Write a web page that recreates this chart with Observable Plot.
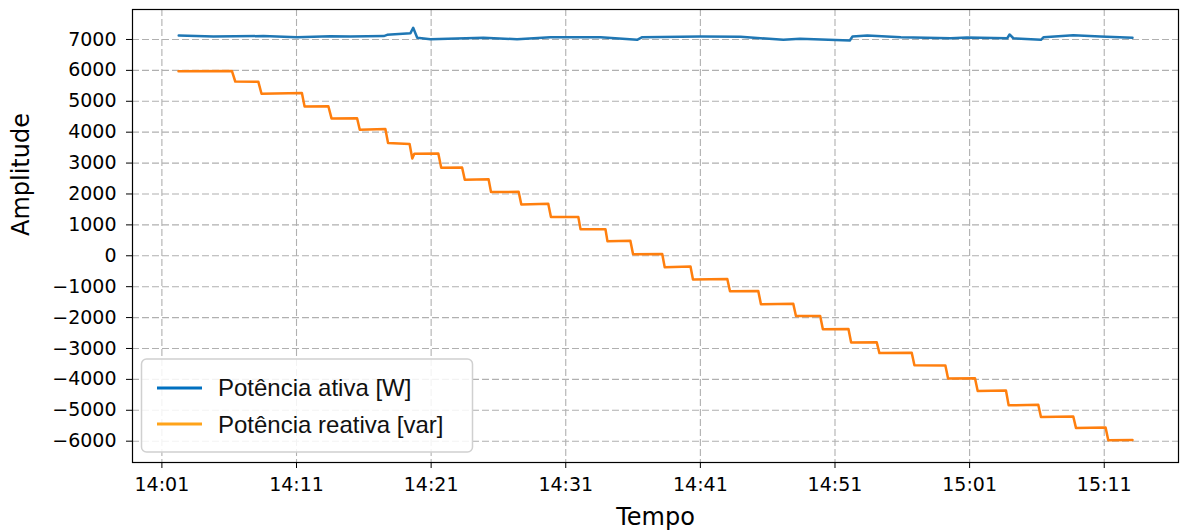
<!DOCTYPE html>
<html><head><meta charset="utf-8">
<script src="https://cdn.jsdelivr.net/npm/d3@7"></script>
<script src="https://cdn.jsdelivr.net/npm/@observablehq/plot@0.6"></script>
<style>
html,body{margin:0;padding:0;background:#fff;}
#wrap{position:relative;width:1181px;height:531px;overflow:hidden;}
#legend{position:absolute;left:0;top:0;pointer-events:none;}
</style></head><body>
<div id="wrap"></div>
<script>
// Potência ativa [W]
const activeTime = ["14:02:15","14:04:50","14:08:32","14:11:02","14:13:31","14:15:00","14:17:29","14:17:44","14:19:28","14:19:40","14:19:58","14:20:57","14:24:53","14:27:23","14:29:52","14:33:35","14:36:18","14:36:41","14:41:00","14:43:59","14:47:10","14:48:24","14:52:06","14:52:18","14:53:24","14:55:54","14:59:36","15:00:48","15:03:48","15:03:58","15:04:15","15:06:18","15:06:30","15:08:42","15:10:42","15:13:06"];
const activeValue = [7130,7100,7110,7075,7105,7097,7110,7150,7205,7378,7054,7010,7054,7010,7075,7075,6990,7075,7097,7090,6990,7022,6968,7097,7130,7075,7040,7060,7040,7162,7040,6990,7075,7140,7100,7054];

// Potência reativa [var]
const reactiveTime = ["14:02:14","14:06:12","14:06:27","14:08:10","14:08:24","14:11:24","14:11:36","14:13:22","14:13:36","14:15:30","14:15:42","14:17:36","14:17:48","14:19:24","14:19:36","14:19:45","14:21:32","14:21:45","14:23:18","14:23:30","14:25:16","14:25:27","14:27:30","14:27:42","14:29:42","14:29:54","14:31:56","14:32:06","14:33:57","14:34:06","14:35:48","14:36:00","14:38:10","14:38:21","14:40:16","14:40:27","14:43:00","14:43:12","14:45:18","14:45:30","14:47:54","14:48:06","14:49:54","14:50:06","14:52:00","14:52:12","14:54:06","14:54:18","14:56:42","14:56:54","14:59:12","14:59:24","15:01:24","15:01:36","15:03:42","15:03:54","15:06:06","15:06:18","15:08:42","15:08:54","15:11:06","15:11:18","15:13:06"];
const reactiveValue = [5975,5980,5640,5630,5245,5270,4833,4840,4445,4450,4080,4100,3647,3620,3150,3300,3310,2850,2855,2460,2480,2060,2070,1660,1680,1253,1255,855,860,467,490,47,60,-370,-350,-770,-750,-1150,-1140,-1570,-1550,-1950,-1950,-2380,-2370,-2810,-2800,-3150,-3140,-3540,-3550,-3975,-3960,-4375,-4360,-4840,-4820,-5215,-5200,-5570,-5560,-5970,-5960];

const xTickLabels = ["14:01","14:11","14:21","14:31","14:41","14:51","15:01","15:11"];
const yTickValues = [-6000,-5000,-4000,-3000,-2000,-1000,0,1000,2000,3000,4000,5000,6000,7000];
const xDomainLabels = ["13:58:49","15:16:31"];
const yDomain = [-6690, 7970];
const seriesNames = ["Potência ativa [W]", "Potência reativa [var]"];
const lineColors = ["#1f77b4", "#ff7f0e"];
const legendColors = ["#0070c0", "#ffa31a"];

const toDate = (s) => { const [h, m, sec] = s.split(":").map(Number); return new Date(Date.UTC(2024, 0, 1, h, m, sec || 0)); };
const active = activeTime.map((t, i) => ({t: toDate(t), v: activeValue[i]}));
const reactive = reactiveTime.map((t, i) => ({t: toDate(t), v: reactiveValue[i]}));
const xTicks = xTickLabels.map(toDate);
const fmtY = d => d < 0 ? "\u2212" + Math.abs(d) : String(d);

const gridStyle = {stroke: "#b0b0b0", strokeOpacity: 1, strokeDasharray: "7,3", strokeWidth: 1.1};

const plot = Plot.plot({
  width: 1181, height: 531,
  marginLeft: 132, marginRight: 3, marginTop: 9, marginBottom: 69,
  style: {fontFamily: "'DejaVu Sans', sans-serif", fontSize: "19px", color: "black", background: "white"},
  x: {type: "utc", domain: xDomainLabels.map(toDate)},
  y: {domain: yDomain},
  marks: [
    Plot.gridX(xTicks, gridStyle),
    Plot.gridY(yTickValues, gridStyle),
    Plot.line(active, {x: "t", y: "v", stroke: lineColors[0], strokeWidth: 2.5}),
    Plot.line(reactive, {x: "t", y: "v", stroke: lineColors[1], strokeWidth: 2.5}),
    Plot.frame({stroke: "black", strokeWidth: 1.2}),
    Plot.axisX(xTicks, {tickFormat: d3.utcFormat("%H:%M"), tickSize: 6, tickPadding: 9, label: null, fontSize: 19}),
    Plot.axisY(yTickValues, {tickFormat: fmtY, tickSize: 6, tickPadding: 10, label: null, fontSize: 19}),
    Plot.text(["Amplitude"], {text: d => d, frameAnchor: "left", dx: -111, rotate: -90, fontSize: 24}),
    Plot.text(["Tempo"], {text: d => d, frameAnchor: "bottom", dy: 62, fontSize: 24})
  ]
});
const wrap = document.getElementById("wrap");
wrap.appendChild(plot);

// legend overlay
const ns = "http://www.w3.org/2000/svg";
const lg = document.createElementNS(ns, "svg");
lg.setAttribute("id", "legend");
lg.setAttribute("width", 1181); lg.setAttribute("height", 531);
const rect = document.createElementNS(ns, "rect");
Object.entries({x: 141.5, y: 359, width: 331, height: 93, rx: 5, fill: "white", "fill-opacity": 0.85, stroke: "#d0d0d0", "stroke-width": 1.5}).forEach(([k, v]) => rect.setAttribute(k, v));
lg.appendChild(rect);
const lineY = [388, 424], textY = [396, 433];
seriesNames.forEach((name, i) => {
  const ln = document.createElementNS(ns, "line");
  Object.entries({x1: 157, x2: 202, y1: lineY[i], y2: lineY[i], stroke: legendColors[i], "stroke-width": 3.2}).forEach(([k, v]) => ln.setAttribute(k, v));
  lg.appendChild(ln);
  const tx = document.createElementNS(ns, "text");
  Object.entries({x: 218, y: textY[i], "font-family": "'Liberation Sans', Arial, sans-serif", "font-size": 24, fill: "#111"}).forEach(([k, v]) => tx.setAttribute(k, v));
  tx.textContent = name;
  lg.appendChild(tx);
});
wrap.appendChild(lg);
</script>
</body></html>
